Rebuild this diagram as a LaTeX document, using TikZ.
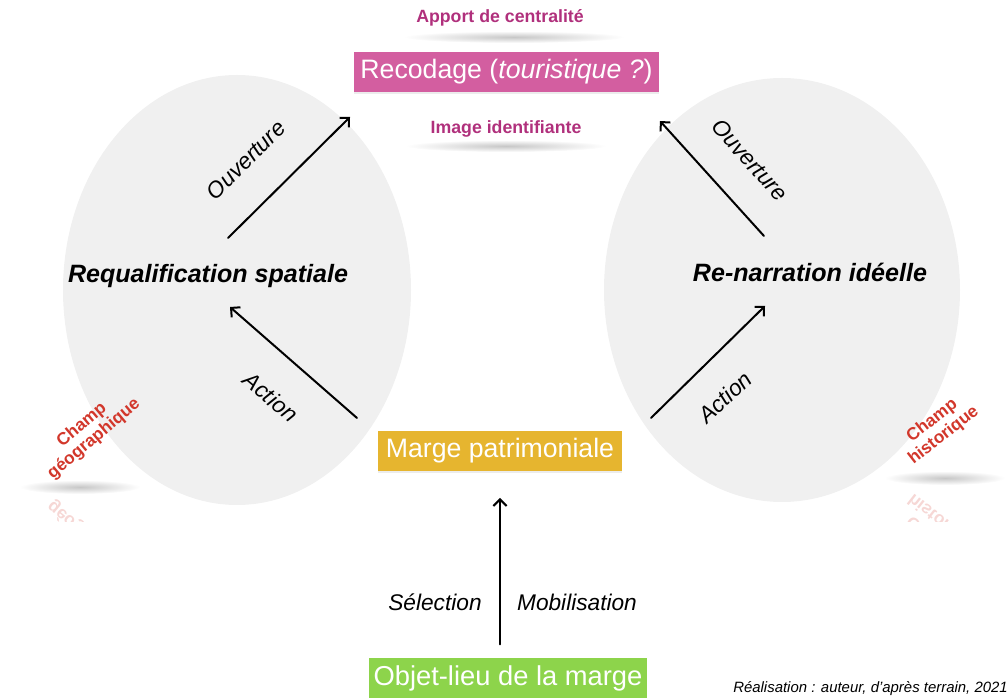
\documentclass[tikz,border=0pt]{standalone}
\usepackage{fontspec}
\setmainfont{Liberation Sans}
\usetikzlibrary{arrows.meta,shadows,fadings}
\definecolor{rose}{HTML}{D35EA0}
\definecolor{magenta}{HTML}{B0307C}
\definecolor{ocre}{HTML}{E6B52F}
\definecolor{vert}{HTML}{8DD44B}
\definecolor{rouge}{HTML}{D2372B}
\definecolor{fond}{HTML}{F0F0F0}
\tikzfading[name=flou,inner color=transparent!0,outer color=transparent!100]
\begin{document}
\begin{tikzpicture}[x=0.75pt,y=-0.75pt,line cap=round,>={Straight Barb[length=5pt,width=10pt]}]
        \tikzset{every node/.style={inner sep=0pt},
            boite/.style={fill=#1,text=white,minimum height=30pt,inner xsep=3pt,
                drop shadow={opacity=0.15,shadow xshift=0pt,shadow yshift=-1.5pt}},
            effet/.style={text=magenta,font=\fontsize{13.3}{15}\selectfont\bfseries},
            champ/.style={text=rouge,font=\fontsize{13}{14}\selectfont\bfseries,align=center},
            pole/.style={font=\fontsize{18.8}{21}\selectfont\bfseries\itshape},
            verbe/.style={font=\fontsize{17}{19}\selectfont\itshape},
            ombre/.style={fill=black,opacity=0.22,path fading=flou},
            fleche/.style={->,line width=1.5pt}}
        \useasboundingbox (0,0) rectangle (1008,698);
        % les deux champs
        \fill[fond] (237,290) ellipse [x radius=174,y radius=215];
        \fill[fond] (782,290) ellipse [x radius=178,y radius=212];
        \fill[ombre] (80,487) ellipse [x radius=60,y radius=7];
        \fill[ombre] (945,478) ellipse [x radius=60,y radius=7];
        \fill[ombre] (514,37) ellipse [x radius=110,y radius=6];
        \fill[ombre] (506,146) ellipse [x radius=100,y radius=6];
        \node[champ,rotate=40] (geo) at (88,432) {Champ\\géographique};
        \node[champ,rotate=38] (hist) at (938,428) {Champ\\historique};
        \begin{scope}
            \clip (0,494) rectangle (1008,522);
            \node[champ,rotate=-40,yscale=-1,opacity=0.2] (geoR) at (88,548) {Champ\\géographique};
            \node[champ,rotate=-38,yscale=-1,opacity=0.2] (histR) at (938,530) {Champ\\historique};
        \end{scope}
        % le recodage
        \node[effet] (apport) at (500,18) {Apport de centralité};
        \node[boite=rose,minimum width=229pt,font=\fontsize{20}{22}\selectfont] (recod) at (506.5,72) {Recodage (\textit{touristique ?})};
        \node[effet] (image) at (506,129) {Image identifiante};
        \node[boite=ocre,minimum width=183pt,font=\fontsize{20}{22}\selectfont] (marge) at (500,451) {Marge patrimoniale};
        \node[boite=vert,minimum width=208pt,font=\fontsize{20.5}{22}\selectfont] (objet) at (508,678) {Objet-lieu de la marge};
        \node[pole] (requal) at (208,276) {Requalification spatiale};
        \node[pole] (renarr) at (810,272) {Re-narration idéelle};
        % fleches
        \coordinate (a1) at (357,418); \coordinate (a2) at (230,307);
        \coordinate (o1) at (228,238); \coordinate (o2) at (350,117);
        \coordinate (b1) at (651,418); \coordinate (b2) at (765,306);
        \coordinate (p1) at (764,236); \coordinate (p2) at (660,121);
        \draw[fleche] (a1) -- (a2);
        \draw[fleche] (o1) -- (o2);
        \draw[fleche] (b1) -- (b2);
        \draw[fleche] (p1) -- (p2);
        \draw[fleche,shorten <=10pt,shorten >=20pt] (objet.north -| 500,0) -- (marge.south -| 500,0);
        \node[verbe,rotate=-40] (actionA) at (271,397) {Action};
        \node[verbe,rotate=45] (ouvA) at (246,160) {Ouverture};
        \node[verbe,rotate=43] (actionB) at (725,397) {Action};
        \node[verbe,rotate=-48] (ouvB) at (750,160) {Ouverture};
        \node[verbe] (select) at (435,602) {Sélection};
        \node[verbe] (mobil) at (577,602) {Mobilisation};
        \node[anchor=west,font=\fontsize{11.2}{13}\selectfont\itshape] (credit) at (733,689) {Réalisation : auteur, d’après terrain, 2021};
    \end{tikzpicture}
\end{document}
